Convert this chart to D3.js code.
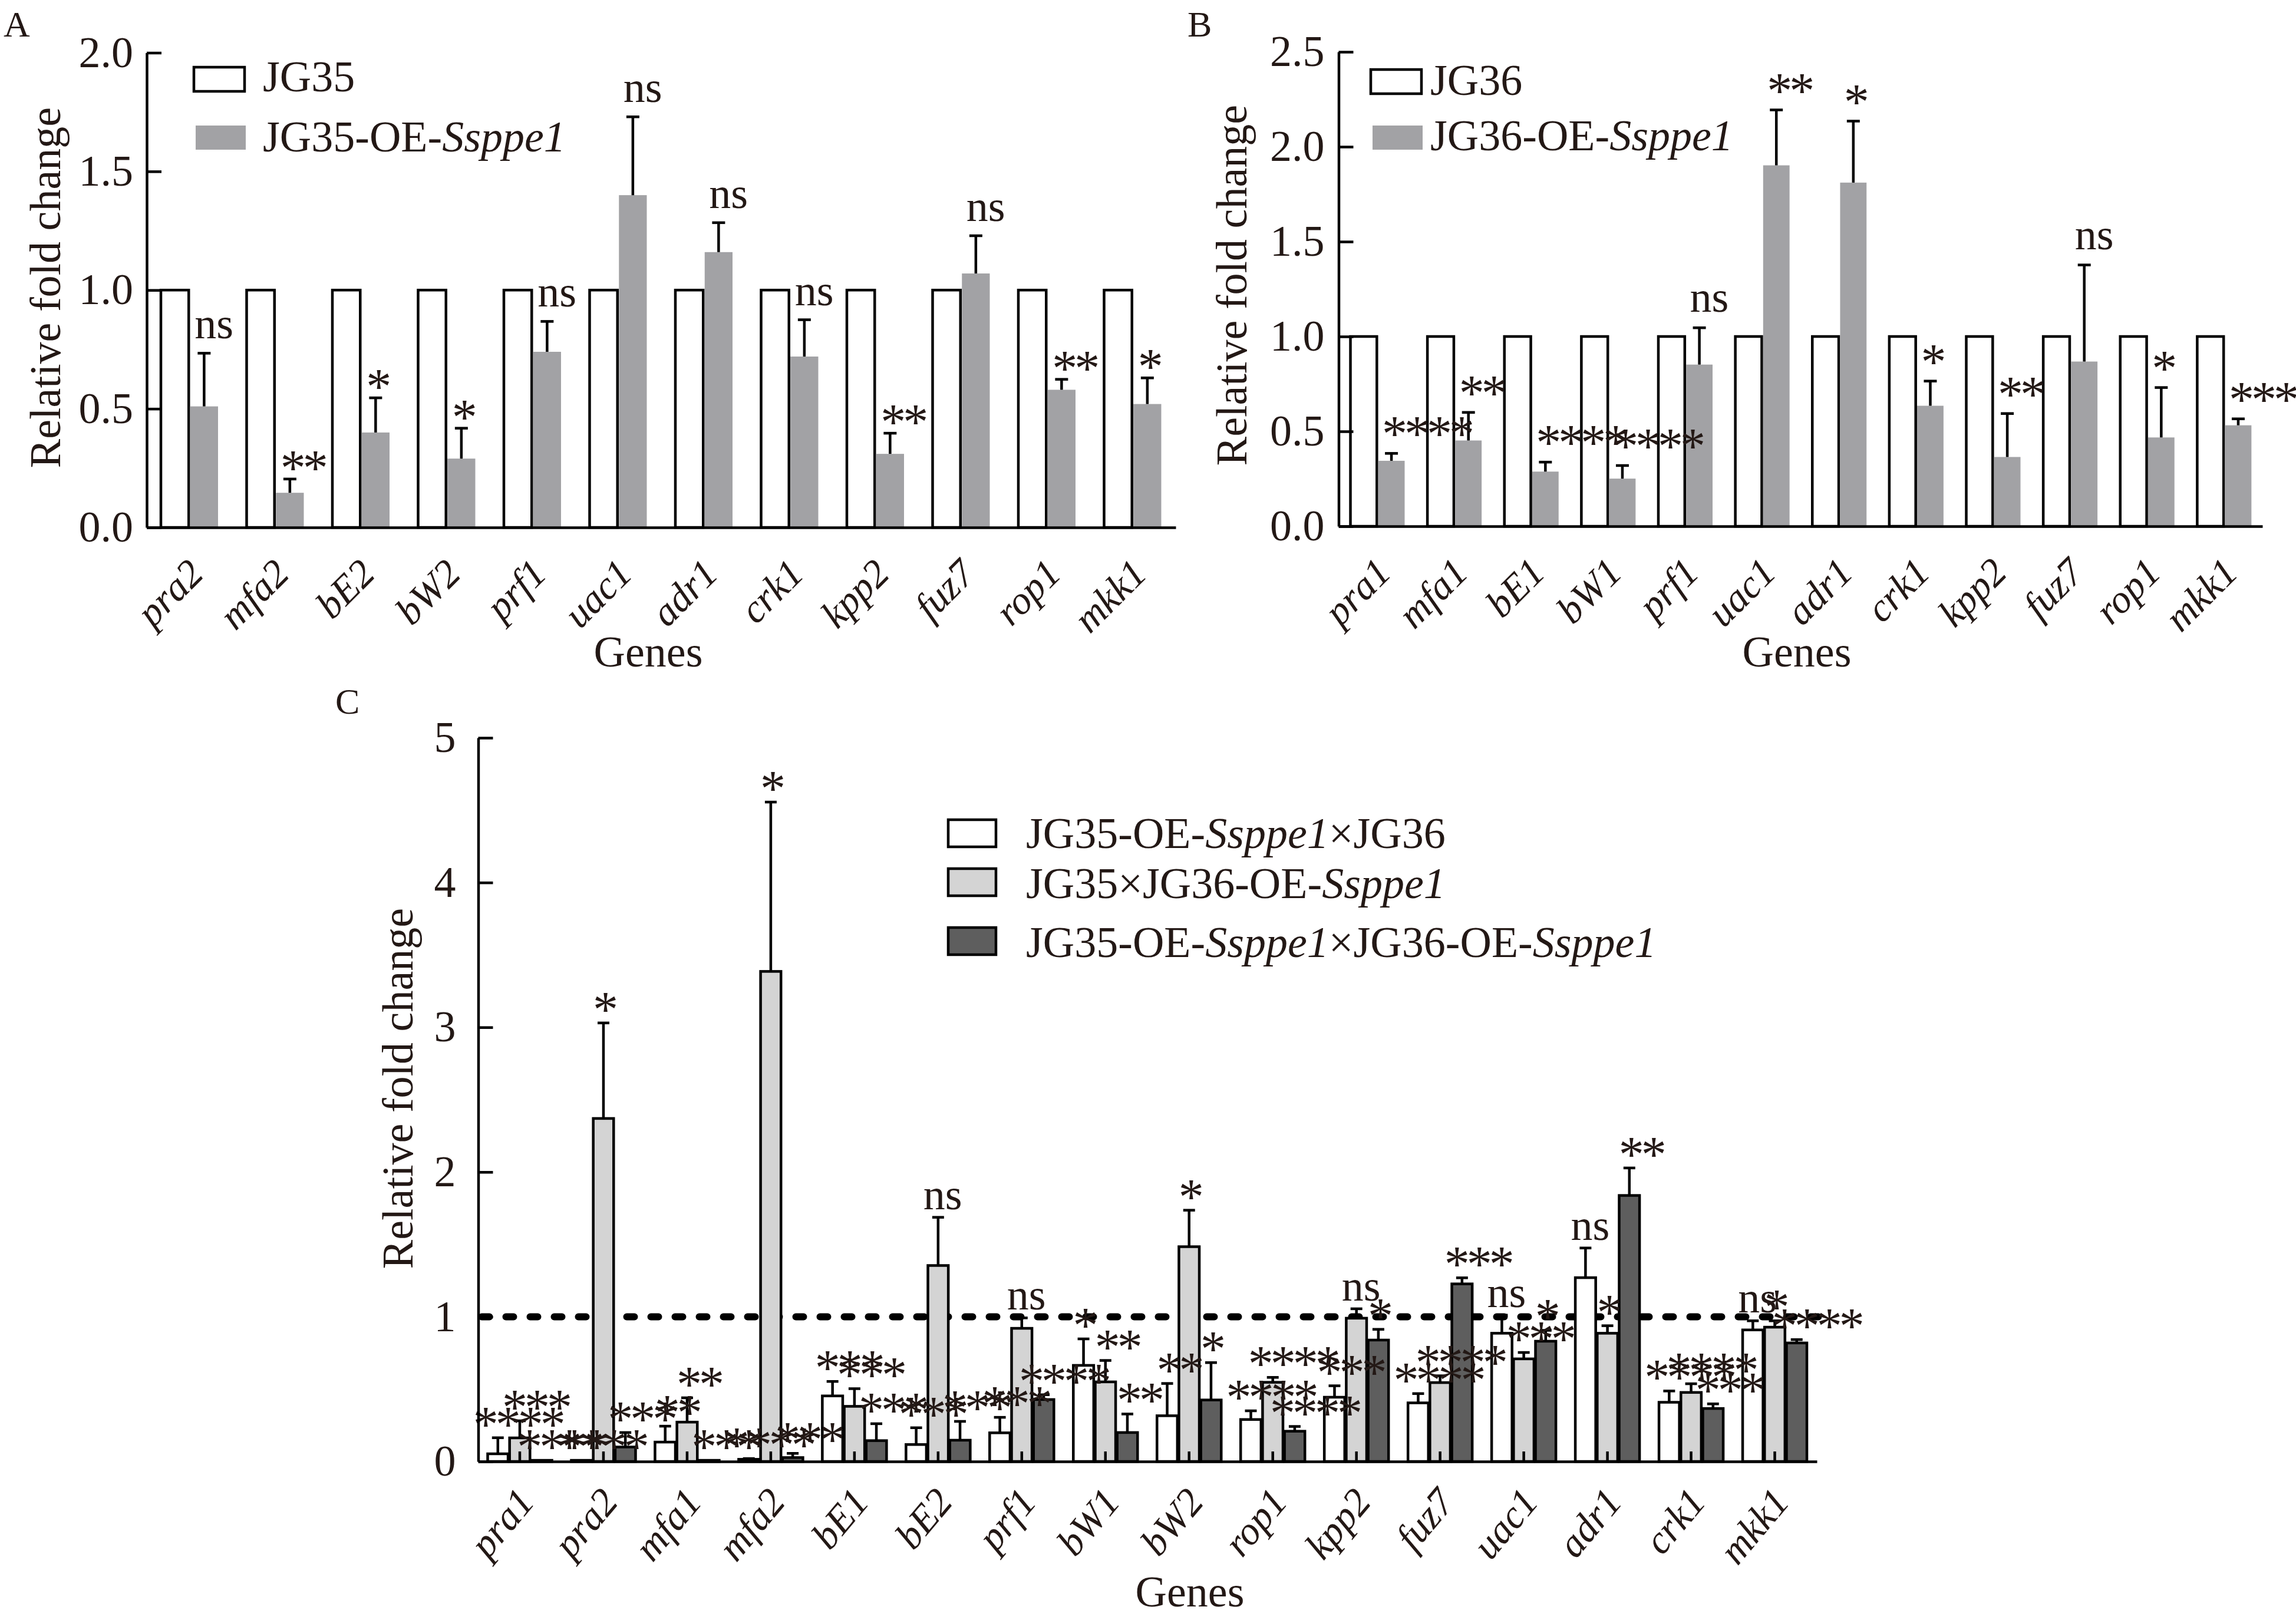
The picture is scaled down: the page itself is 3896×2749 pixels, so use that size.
<!DOCTYPE html>
<html><head><meta charset="utf-8">
<script src="https://cdn.jsdelivr.net/npm/d3@7"></script>
<style>html,body{margin:0;padding:0;background:#fff}</style>
</head><body>
<svg id="chart" width="3896" height="2749" xmlns="http://www.w3.org/2000/svg"></svg>
<script>
// ---------------- DATA ----------------
// Panel A
const genesA = ['pra2','mfa2','bE2','bW2','prf1','uac1','adr1','crk1','kpp2','fuz7','rop1','mkk1'];
const jg35 = [1,1,1,1,1,1,1,1,1,1,1,1];
const jg35OE = [0.51,0.146,0.40,0.29,0.74,1.40,1.16,0.72,0.31,1.07,0.58,0.52];
const jg35OEErr = [0.224,0.058,0.146,0.128,0.128,0.33,0.124,0.155,0.087,0.159,0.044,0.11];
const sigA = ['ns','**','*','*','ns','ns','ns','ns','**','ns','**','*'];
const ticksA = [0,0.5,1,1.5,2];

// Panel B
const genesB = ['pra1','mfa1','bE1','bW1','prf1','uac1','adr1','crk1','kpp2','fuz7','rop1','mkk1'];
const jg36 = [1,1,1,1,1,1,1,1,1,1,1,1];
const jg36OE = [0.345,0.452,0.288,0.251,0.852,1.902,1.811,0.635,0.365,0.868,0.468,0.532];
const jg36OEErr = [0.039,0.148,0.05,0.069,0.194,0.292,0.324,0.13,0.229,0.509,0.263,0.034];
const sigB = ['****','**','****','****','ns','**','*','*','**','ns','*','***'];
const ticksB = [0,0.5,1,1.5,2,2.5];

// Panel C
const genesC = ['pra1','pra2','mfa1','mfa2','bE1','bE2','prf1','bW1','bW2','rop1','kpp2','fuz7','uac1','adr1','crk1','mkk1'];
const crossOE35 = [0.053,0.008,0.134,0.015,0.453,0.117,0.198,0.664,0.316,0.29,0.444,0.405,0.886,1.27,0.409,0.909];
const crossOE35Err = [0.111,0,0.11,0.005,0.10,0.116,0.107,0.183,0.223,0.06,0.079,0.064,0.125,0.205,0.078,0.063];
const crossOE36 = [0.163,2.37,0.272,3.386,0.381,1.354,0.92,0.55,1.484,0.547,0.99,0.545,0.709,0.886,0.477,0.928];
const crossOE36Err = [0.118,0.66,0.168,1.17,0.122,0.333,0.072,0.148,0.252,0.034,0.065,0.047,0.044,0.052,0.06,0.044];
const crossBoth = [0.008,0.1,0.008,0.027,0.144,0.147,0.428,0.2,0.425,0.209,0.839,1.227,0.831,1.838,0.366,0.819];
const crossBothErr = [0,0.1,0,0.029,0.117,0.13,0.033,0.128,0.258,0.033,0.074,0.042,0.075,0.19,0.032,0.023];
const sigC1 = ['****','****','**','****','***','***','***','*','**','****','***','****','ns','ns','****','ns'];
const sigC2 = ['***','*','**','*','***','ns','ns','**','*','****','ns','****','***','*','****','*'];
const sigC3 = ['****','***','***','***','***','***','****','**','*','****','*','***','*','**','***','****'];
const ticksC = [0,1,2,3,4,5];

const legendA = [['JG35'], ['JG35-OE-', 'Ssppe1']];
const legendB = [['JG36'], ['JG36-OE-', 'Ssppe1']];
const legendC = [['JG35-OE-', 'Ssppe1', '×JG36'], ['JG35×JG36-OE-', 'Ssppe1'], ['JG35-OE-', 'Ssppe1', '×JG36-OE-', 'Ssppe1']];

// ---------------- STYLE ----------------
const FONT = '"Liberation Serif","Times New Roman",serif';
const TXT = '#231815';
const SW = 4.5;
const GRAY_AB = '#a2a2a5';
const LIGHT_C = '#d4d4d4';
const DARK_C = '#5e5e5e';
const STAR_SIZE = 86, STAR_LS = -5;
const XLAB_SIZE = 67;

const svg = d3.select('#chart');
svg.append('rect').attr('width',3896).attr('height',2749).attr('fill','#fff');

function addText(g, x, y, str, size, opts = {}) {
  const t = g.append('text').attr('x', x).attr('y', y)
    .attr('font-family', FONT).attr('font-size', size).attr('fill', TXT)
    .attr('text-anchor', opts.anchor || 'start');
  if (opts.italic) t.attr('font-style', 'italic');
  if (opts.transform) t.attr('transform', opts.transform);
  t.text(str);
  return t;
}
// parts alternate: normal, italic, normal, italic...
function addRich(g, x, y, parts, size) {
  const t = g.append('text').attr('x', x).attr('y', y)
    .attr('font-family', FONT).attr('font-size', size).attr('fill', TXT);
  parts.forEach((p, i) => {
    t.append('tspan').attr('font-style', i % 2 === 1 ? 'italic' : 'normal').text(p);
  });
  return t;
}
function styleAxis(sel) {
  sel.selectAll('path,line').attr('stroke', '#000').attr('stroke-width', SW);
  sel.selectAll('text').attr('font-family', FONT).attr('font-size', 74).attr('fill', TXT);
}
function sigStyle(sel) {
  sel.attr('font-family', FONT).attr('fill', TXT)
    .attr('font-size', d => d.s === 'ns' ? 74 : STAR_SIZE)
    .attr('letter-spacing', d => d.s === 'ns' ? 0 : STAR_LS);
}

// ---------------- PANELS A & B ----------------
function pairPanel(cfg) {
  const g = svg.append('g');
  const y = d3.scaleLinear().domain([0, cfg.ymax]).range([cfg.y0, cfg.yTop]);
  const x = d3.scaleBand().domain(cfg.genes).range([cfg.x0, cfg.x1]);
  const sub = d3.scaleBand().domain(['ctrl', 'oe']).range(cfg.sub).paddingInner(0.05);

  g.selectAll('rect.ctrl').data(cfg.genes).join('rect').attr('class', 'ctrl')
    .attr('x', d => x(d) + sub('ctrl')).attr('width', sub.bandwidth())
    .attr('y', (d, i) => y(cfg.ctrl[i])).attr('height', (d, i) => y(0) - y(cfg.ctrl[i]))
    .attr('fill', '#fff').attr('stroke', '#000').attr('stroke-width', SW);
  g.selectAll('rect.oe').data(cfg.genes).join('rect').attr('class', 'oe')
    .attr('x', d => x(d) + sub('oe')).attr('width', sub.bandwidth())
    .attr('y', (d, i) => y(cfg.oe[i])).attr('height', (d, i) => y(0) - y(cfg.oe[i]))
    .attr('fill', GRAY_AB);
  const cx = d => x(d) + sub('oe') + sub.bandwidth() / 2;
  g.selectAll('line.err').data(cfg.genes).join('line').attr('class', 'err')
    .attr('x1', cx).attr('x2', cx)
    .attr('y1', (d, i) => y(cfg.oe[i])).attr('y2', (d, i) => y(cfg.oe[i] + cfg.err[i]))
    .attr('stroke', '#000').attr('stroke-width', SW);
  g.selectAll('line.cap').data(cfg.genes).join('line').attr('class', 'cap')
    .attr('x1', d => cx(d) - 11).attr('x2', d => cx(d) + 11)
    .attr('y1', (d, i) => y(cfg.oe[i] + cfg.err[i])).attr('y2', (d, i) => y(cfg.oe[i] + cfg.err[i]))
    .attr('stroke', '#000').attr('stroke-width', SW);

  const sigData = cfg.genes.map((d, i) => ({ d, s: cfg.sig[i], top: y(cfg.oe[i] + cfg.err[i]) }));
  g.selectAll('text.sig').data(sigData).join('text').attr('class', 'sig')
    .call(sigStyle)
    .attr('x', p => cx(p.d) - 16)
    .attr('y', p => p.s === 'ns' ? p.top - cfg.nsGap : p.top + cfg.starBase)
    .text(p => p.s);

  const ya = g.append('g').attr('transform', `translate(${cfg.x0},0)`)
    .call(d3.axisLeft(y).tickValues(cfg.ticks).tickFormat(d3.format('.1f'))
      .tickSizeInner(-25).tickSizeOuter(0).tickPadding(cfg.tickPad));
  styleAxis(ya);
  const xa = g.append('g').attr('transform', `translate(0,${cfg.y0})`)
    .call(d3.axisBottom(x).tickSize(0).tickPadding(0));
  styleAxis(xa);
  xa.selectAll('text').attr('y', 0).attr('dy', 0).attr('text-anchor', 'end')
    .attr('font-style', 'italic').attr('font-size', XLAB_SIZE)
    .attr('transform', 'translate(27,82) rotate(-45)');

  const L = cfg.legend;
  g.append('rect').attr('x', L.bx).attr('y', L.by[0]).attr('width', 86).attr('height', 41)
    .attr('fill', '#fff').attr('stroke', '#000').attr('stroke-width', SW);
  g.append('rect').attr('x', L.bx + 3).attr('y', L.by[1]).attr('width', 85).attr('height', 41)
    .attr('fill', GRAY_AB);
  addRich(g, L.tx, L.ty[0], cfg.legendText[0], 74);
  addRich(g, L.tx, L.ty[1], cfg.legendText[1], 74);

  addText(g, cfg.yt[0], cfg.yt[1], 'Relative fold change', 74,
    { anchor: 'middle', transform: `rotate(-90,${cfg.yt[0]},${cfg.yt[1]})` });
  addText(g, cfg.xt[0], cfg.xt[1], 'Genes', 74, { anchor: 'middle' });
  addText(g, cfg.letter[0], cfg.letter[1], cfg.letter[2], 62);
}

pairPanel({
  genes: genesA, ctrl: jg35, oe: jg35OE, err: jg35OEErr, sig: sigA, ticks: ticksA,
  ymax: 2, y0: 895, yTop: 89.5, x0: 249, x1: 1995, sub: [24, 121], tickPad: 23,
  nsGap: 25, starBase: 10,
  legend: { bx: 329, by: [114, 213], tx: 446, ty: [155, 257] }, legendText: legendA,
  yt: [102, 488], xt: [1100, 1131], letter: [6, 62, 'A']
});
pairPanel({
  genes: genesB, ctrl: jg36, oe: jg36OE, err: jg36OEErr, sig: sigB, ticks: ticksB,
  ymax: 2.5, y0: 893, yTop: 88, x0: 2271.5, x1: 3839, sub: [20, 112], tickPad: 24,
  nsGap: 27, starBase: -4,
  legend: { bx: 2326, by: [118, 213], tx: 2427, ty: [161, 255] }, legendText: legendB,
  yt: [2115, 484], xt: [3049, 1131], letter: [2015, 62, 'B']
});

// ---------------- PANEL C ----------------
(function () {
  const g = svg.append('g');
  const x0 = 811.5, x1 = 3083, y0 = 2480;
  const y = d3.scaleLinear().domain([0, 5]).range([y0, 1252]);
  const x = d3.scaleBand().domain(genesC).range([x0, x1]);
  const sub = d3.scaleBand().domain(['a', 'b', 'c']).range([16, 125]).paddingInner(0.07);

  g.append('line').attr('x1', x0 + 6).attr('x2', 3090).attr('y1', y(1)).attr('y2', y(1))
    .attr('stroke', '#000').attr('stroke-width', 12).attr('stroke-linecap', 'round')
    .attr('stroke-dasharray', '13,28');

  const series = [
    { key: 'a', v: crossOE35, e: crossOE35Err, s: sigC1, fill: '#fff' },
    { key: 'b', v: crossOE36, e: crossOE36Err, s: sigC2, fill: LIGHT_C },
    { key: 'c', v: crossBoth, e: crossBothErr, s: sigC3, fill: DARK_C }
  ];
  series.forEach(S => {
    const cx = d => x(d) + sub(S.key) + sub.bandwidth() / 2;
    g.selectAll('rect.b' + S.key).data(genesC).join('rect').attr('class', 'b' + S.key)
      .attr('x', d => x(d) + sub(S.key)).attr('width', sub.bandwidth())
      .attr('y', (d, i) => y(S.v[i])).attr('height', (d, i) => y(0) - y(S.v[i]))
      .attr('fill', S.fill).attr('stroke', '#000').attr('stroke-width', SW);
    if (S.key === 'b') {
      g.selectAll('line.stub').data(genesC).join('line').attr('class', 'stub')
        .attr('x1', cx).attr('x2', cx).attr('y1', y0).attr('y2', y0 - 17)
        .attr('stroke', '#000').attr('stroke-width', SW);
    }
    const withErr = genesC.filter((d, i) => S.e[i] > 0);
    const idx = d => genesC.indexOf(d);
    g.selectAll('line.e' + S.key).data(withErr).join('line').attr('class', 'e' + S.key)
      .attr('x1', cx).attr('x2', cx)
      .attr('y1', d => y(S.v[idx(d)])).attr('y2', d => y(S.v[idx(d)] + S.e[idx(d)]))
      .attr('stroke', '#000').attr('stroke-width', SW);
    g.selectAll('line.c' + S.key).data(withErr).join('line').attr('class', 'c' + S.key)
      .attr('x1', d => cx(d) - 10).attr('x2', d => cx(d) + 10)
      .attr('y1', d => y(S.v[idx(d)] + S.e[idx(d)])).attr('y2', d => y(S.v[idx(d)] + S.e[idx(d)]))
      .attr('stroke', '#000').attr('stroke-width', SW);
    S.cx = cx;
  });
  series.forEach(S => {
    const sigData = genesC.map((d, i) => ({ d, s: S.s[i], top: y(S.v[i] + S.e[i]) }));
    g.selectAll('text.s' + S.key).data(sigData).join('text').attr('class', 's' + S.key)
      .call(sigStyle)
      .attr('x', p => p.s === 'ns' ? S.cx(p.d) - 25 : S.cx(p.d) - 18 - Math.max(0, p.s.length - 2) * 12)
      .attr('y', p => p.s === 'ns' ? p.top - 14 : p.top + 6)
      .text(p => p.s);
  });

  const ya = g.append('g').attr('transform', `translate(${x0},0)`)
    .call(d3.axisLeft(y).tickValues(ticksC).tickFormat(d3.format('d'))
      .tickSizeInner(-25).tickSizeOuter(0).tickPadding(38));
  styleAxis(ya);
  const xa = g.append('g').attr('transform', `translate(0,${y0})`)
    .call(d3.axisBottom(x).tickSize(0).tickPadding(0));
  styleAxis(xa);
  xa.selectAll('text').attr('y', 0).attr('dy', 0).attr('text-anchor', 'end')
    .attr('font-style', 'italic').attr('font-size', XLAB_SIZE)
    .attr('transform', 'translate(27,70) rotate(-50)');

  const fills = ['#fff', LIGHT_C, DARK_C];
  const boxY = [1391, 1474, 1574];
  const txtY = [1439, 1524, 1624];
  legendC.forEach((parts, i) => {
    g.append('rect').attr('x', 1609).attr('y', boxY[i]).attr('width', 81).attr('height', 46)
      .attr('fill', fills[i]).attr('stroke', '#000').attr('stroke-width', SW);
    addRich(g, 1741, txtY[i], parts, 74);
  });

  addText(g, 700, 1847, 'Relative fold change', 74,
    { anchor: 'middle', transform: 'rotate(-90,700,1847)' });
  addText(g, 2019, 2726, 'Genes', 74, { anchor: 'middle' });
  addText(g, 569, 1211, 'C', 62);
})();
</script>
</body></html>
